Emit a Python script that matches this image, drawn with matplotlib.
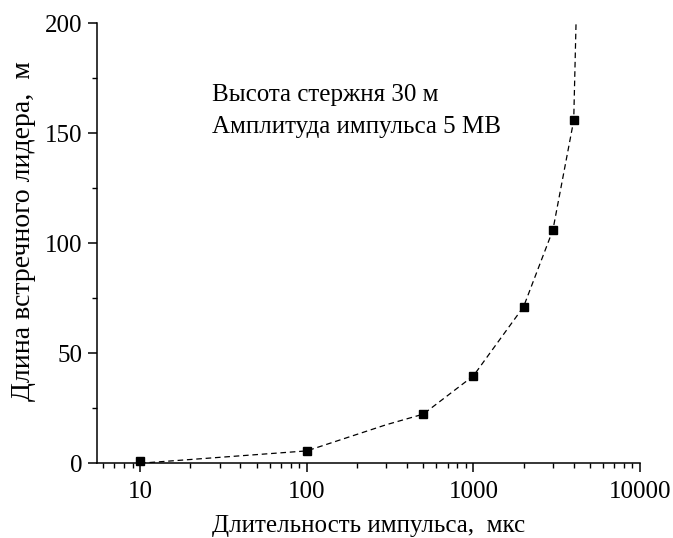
import matplotlib.pyplot as plt
from matplotlib.ticker import LogLocator, FixedLocator, NullFormatter

# measured points
duration = [10, 100, 500, 1000, 2000, 3000, 4000]
leader_len = [1, 5.6, 22.3, 39.7, 71.1, 106, 155.8]

# dashed trend curve
curve_x = [10, 100, 300, 500, 1000, 2000, 3000, 4000, 4130]
curve_y = [0, 5.6, 17.5, 22.3, 39.7, 71.1, 106, 155.8, 200]

xticks = [10, 100, 1000, 10000]
yticks = [0, 50, 100, 150, 200]

plt.rcParams['font.family'] = ['Liberation Serif', 'DejaVu Serif']

fig = plt.figure(figsize=(6.73, 5.38), dpi=100)
ax = fig.add_axes([0.144, 0.139, 0.807, 0.818])

ax.plot(curve_x, curve_y, color='black', lw=0.9, dashes=(4.5, 3))
ax.plot(duration, leader_len, 's', color='black', ms=6, clip_on=False)

ax.set_xscale('log')
ax.set_xlim(5.5, 10000)
ax.set_ylim(0, 200)
ax.set_xticks(xticks)
ax.set_xticklabels([str(v) for v in xticks])
ax.xaxis.set_minor_locator(LogLocator(base=10, subs=range(2, 10)))
ax.xaxis.set_minor_formatter(NullFormatter())
ax.set_yticks(yticks)
ax.yaxis.set_minor_locator(FixedLocator([25, 75, 125, 175]))

ax.spines['top'].set_visible(False)
ax.spines['right'].set_visible(False)
for s in ['left', 'bottom']:
    ax.spines[s].set_linewidth(1.1)

ax.tick_params(which='major', direction='out', length=6.5, width=1.1, labelsize=18, pad=4)
ax.tick_params(which='minor', direction='out', length=3.8, width=1.0)
ax.tick_params(axis='x', which='major', pad=6)

ax.set_xlabel('Длительность импульса,  мкс', fontsize=18, labelpad=9)
ax.set_ylabel('Длина встречного лидера,  м', fontsize=20)
ax.yaxis.set_label_coords(-0.112, 0.527)

ax.text(0.212, 0.823, 'Высота стержня 30 м', transform=ax.transAxes,
        fontsize=18, va='baseline')
ax.text(0.212, 0.75, 'Амплитуда импульса 5 МВ', transform=ax.transAxes,
        fontsize=18, va='baseline')

fig.savefig('out.png', dpi=100)
